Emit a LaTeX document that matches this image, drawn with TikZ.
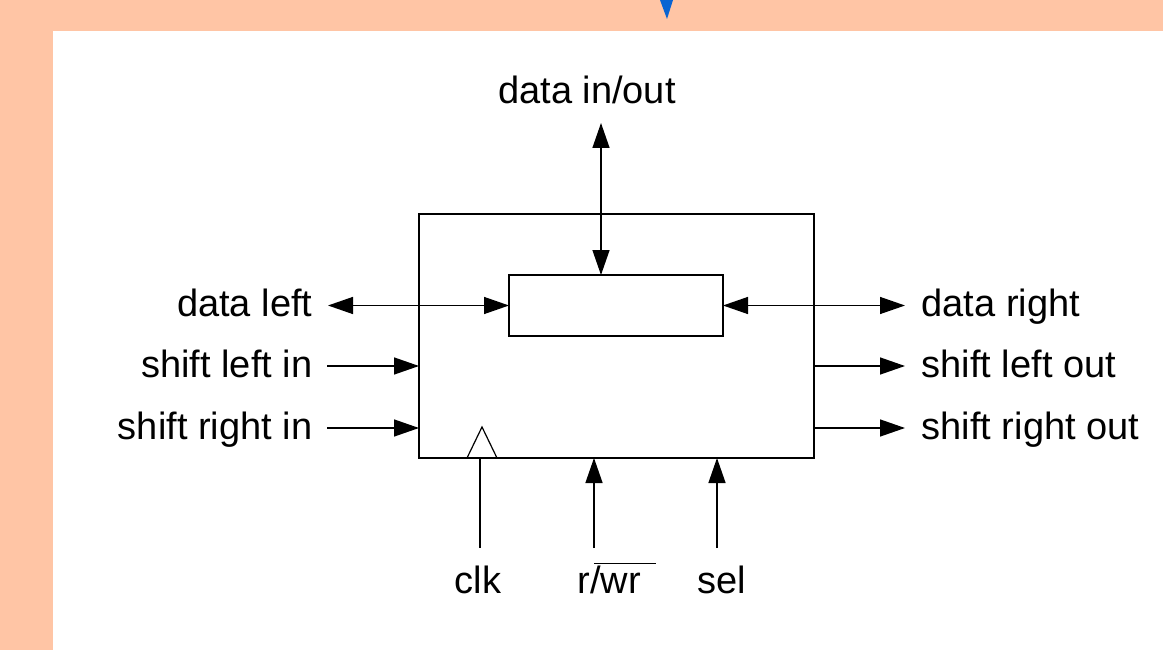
\documentclass[tikz,border=0pt]{standalone}
\usepackage{fontspec}
\setmainfont{Liberation Sans}
\usetikzlibrary{arrows.meta}
\definecolor{peach}{RGB}{255,197,165}
\definecolor{markblue}{RGB}{8,100,210}
\begin{document}
\begin{tikzpicture}[x=1pt,y=-1pt, line width=1.4pt,
  lbl/.style={inner sep=0pt, font=\fontsize{38}{40}\selectfont},
  tip/.style={-{Triangle[length=25pt,width=17pt]}},
  both/.style={{Triangle[length=25pt,width=17pt]}-{Triangle[length=25pt,width=17pt]}},
  blk/.style={draw, line width=1.4pt, inner sep=0pt, outer sep=0pt}]
\useasboundingbox (0,0) rectangle (1163,650);
% slide background
\fill[peach] (0,0) rectangle (1163,650);
\fill[white] (53,31) rectangle (1163,650);
\fill[markblue] (660,0) -- (673,0) -- (667,19) -- cycle;

% register block and its storage cell
\node[blk, minimum width=395pt, minimum height=244pt] (box) at (616.5,336) {};
\node[blk, minimum width=214pt, minimum height=61pt] (reg) at (616,305.5) {};

% clock input marker
\draw[line width=1.2pt] (467,458) -- (482,427) -- (497,458);

% free ends of the connectors
\coordinate (dio) at (601,123);
\coordinate (dl) at (328,305.5);
\coordinate (sli) at (327,366);
\coordinate (sri) at (327,428);
\coordinate (dr) at (905,305.5);
\coordinate (slo) at (905,366);
\coordinate (sro) at (905,428);
\coordinate (clk) at (480,548);
\coordinate (rw) at (594,548);
\coordinate (sel) at (717,548);

% connectors
\draw[both] (dio) -- (dio |- reg.north);
\draw[both] (dl) -- (reg.west);
\draw[tip] (sli) -- (sli -| box.west);
\draw[tip] (sri) -- (sri -| box.west);
\draw[both] (reg.east) -- (dr);
\draw[tip] (box.east |- slo) -- (slo);
\draw[tip] (box.east |- sro) -- (sro);
\draw[line width=1.2pt] (clk |- box.south) -- (clk);
\draw[tip] (rw) -- (rw |- box.south);
\draw[tip] (sel) -- (sel |- box.south);

% labels
\node[lbl, anchor=base] (tdio) at (587,104) {data in/out};
\node[lbl, anchor=base east] (tdl) at (313,316) {data left};
\node[lbl, anchor=base east] (tsli) at (313,377) {shift left in};
\node[lbl, anchor=base east] (tsri) at (313,439) {shift right in};
\node[lbl, anchor=base west] (tdr) at (921,316) {data right};
\node[lbl, anchor=base west] (tslo) at (921,377) {shift left out};
\node[lbl, anchor=base west] (tsro) at (921,439) {shift right out};
\node[lbl, anchor=base] (tclk) at (478,593) {clk};
\node[lbl, anchor=base west] (trw) at (577,593) {r/\makebox[0pt][l]{\hspace{-0.18em}\rule[0.76em]{1.62em}{1.3pt}}wr};
\node[lbl, anchor=base] (tsel) at (722,593) {sel};
\end{tikzpicture}
\end{document}
